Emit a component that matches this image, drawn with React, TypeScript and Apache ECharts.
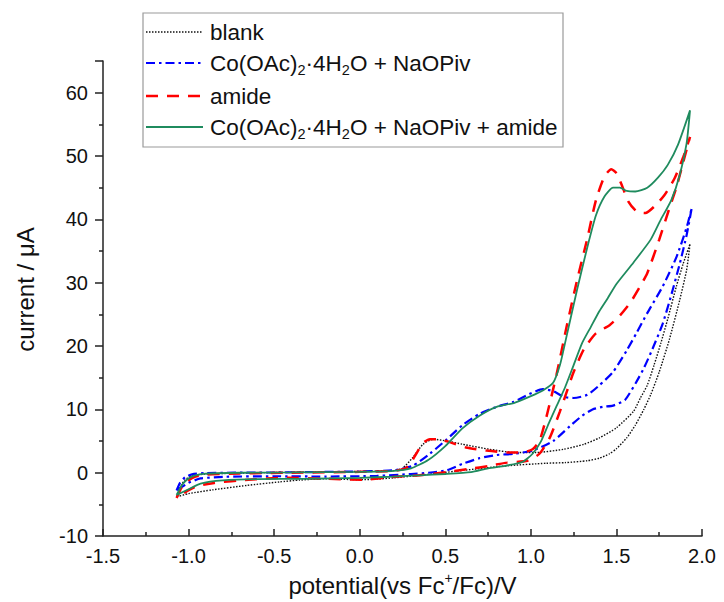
import React, { useEffect, useRef } from 'react';
import * as echarts from 'echarts';

const FONT = '"Liberation Sans", Arial, Helvetica, sans-serif';
const AXIS_COLOR = '#222';

// Tick values
const xTickValues = [-1.5, -1.0, -0.5, 0.0, 0.5, 1.0, 1.5, 2.0];
const yTickValues = [-10, 0, 10, 20, 30, 40, 50, 60];

// Series names (plain) and legend labels (rich)
const seriesNames = [
  'blank',
  'Co(OAc)2·4H2O + NaOPiv',
  'amide',
  'Co(OAc)2·4H2O + NaOPiv + amide',
];
const legendLabels = [
  'blank',
  'Co(OAc){sub|2}·4H{sub|2}O + NaOPiv',
  'amide',
  'Co(OAc){sub|2}·4H{sub|2}O + NaOPiv + amide',
];

// [potential V, current µA] — forward (anodic) scan
const blankForward = [
  [-1.07, -3.8], [-1.05, -2.3], [-1.02, -1.1], [-0.98, -0.5], [-0.9, -0.2], [-0.6, 0.0],
  [0.0, 0.2], [0.2, 0.35], [0.25, 0.7], [0.31, 2.4], [0.37, 4.5], [0.43, 5.3], [0.51, 5.0],
  [0.6, 4.5], [0.76, 3.7], [0.9, 3.2], [1.03, 3.2], [1.19, 3.7], [1.31, 4.5], [1.4, 5.5],
  [1.5, 7.1], [1.6, 9.7], [1.64, 11.8], [1.68, 13.8], [1.72, 17.0], [1.76, 20.5],
  [1.8, 24.3], [1.85, 29.4], [1.89, 33.0], [1.93, 36.1],
];
// reverse (cathodic) scan
const blankReverse = [
  [1.93, 36.1], [1.91, 32.0], [1.87, 27.3], [1.81, 21.1], [1.75, 15.9], [1.7, 12.3],
  [1.66, 10.0], [1.61, 7.5], [1.56, 5.5], [1.5, 3.8], [1.46, 3.0], [1.4, 2.3], [1.33, 1.9],
  [1.2, 1.6], [1.09, 1.5], [0.86, 1.1], [0.6, 0.36], [0.45, -0.1], [0.35, -0.4], [0.2, -0.8],
  [0.1, -1.0], [0.0, -1.1], [-0.2, -0.95], [-0.35, -1.15], [-0.47, -1.45], [-0.66, -2.0],
  [-0.86, -2.7], [-1.0, -3.3], [-1.07, -3.8],
];

const coForward = [
  [-1.07, -2.8], [-1.05, -1.6], [-1.02, -0.7], [-0.98, -0.25], [-0.9, -0.05], [-0.5, 0.05],
  [0.0, 0.2], [0.2, 0.4], [0.31, 1.1], [0.41, 3.0], [0.51, 5.3], [0.6, 7.5], [0.7, 9.3],
  [0.8, 10.4], [0.9, 11.2], [0.99, 12.4], [1.07, 13.2], [1.13, 12.9], [1.19, 12.0],
  [1.25, 11.8], [1.33, 12.3], [1.4, 13.8], [1.48, 15.9], [1.56, 19.3], [1.62, 22.2],
  [1.68, 25.2], [1.77, 29.4], [1.85, 34.0], [1.91, 38.7], [1.94, 41.8],
];
const coReverse = [
  [1.94, 41.8], [1.91, 37.5], [1.87, 33.0], [1.82, 28.0], [1.77, 23.5], [1.71, 19.5],
  [1.66, 16.5], [1.62, 14.5], [1.55, 11.5], [1.48, 10.6], [1.42, 10.4], [1.36, 10.0],
  [1.3, 9.0], [1.23, 7.4], [1.13, 5.0], [1.01, 3.5], [0.9, 3.0], [0.8, 2.8], [0.7, 2.3],
  [0.6, 1.4], [0.51, 0.4], [0.4, 0.0], [0.3, -0.2], [0.1, -0.5], [-0.2, -0.6], [-0.5, -0.55],
  [-0.8, -0.65], [-0.93, -0.9], [-1.0, -1.6], [-1.07, -2.8],
];

const amideForward = [
  [-1.07, -4.0], [-1.04, -2.3], [-1.0, -1.2], [-0.96, -0.6], [-0.9, -0.3], [-0.7, -0.1],
  [-0.4, 0.0], [0.0, 0.15], [0.2, 0.3], [0.26, 0.6], [0.29, 1.2], [0.33, 3.0], [0.37, 4.7],
  [0.41, 5.3], [0.45, 5.3], [0.53, 4.8], [0.62, 4.0], [0.74, 3.5], [0.86, 3.2], [0.95, 3.2],
  [1.01, 3.7], [1.05, 5.0], [1.09, 8.7], [1.15, 15.5], [1.21, 23.2], [1.27, 30.4],
  [1.33, 37.0], [1.38, 43.0], [1.43, 46.8], [1.47, 47.9], [1.5, 47.3], [1.53, 45.5],
  [1.57, 42.8], [1.62, 41.2], [1.67, 41.0], [1.72, 42.0], [1.78, 43.8], [1.84, 46.5],
  [1.89, 49.8], [1.93, 53.0],
];
const amideReverse = [
  [1.93, 53.0], [1.89, 49.0], [1.85, 45.0], [1.81, 41.8], [1.75, 36.8], [1.68, 31.5],
  [1.64, 29.5], [1.58, 26.8], [1.52, 24.8], [1.46, 23.3], [1.38, 22.0], [1.31, 19.5],
  [1.25, 15.9], [1.21, 12.8], [1.17, 9.7], [1.11, 5.5], [1.05, 3.0], [0.98, 1.9], [0.86, 1.6],
  [0.76, 1.1], [0.64, 0.6], [0.51, 0.1], [0.35, -0.4], [0.18, -0.7], [0.02, -1.1],
  [-0.2, -0.95], [-0.45, -0.8], [-0.65, -1.1], [-0.85, -1.6], [-0.95, -2.1], [-1.01, -2.9],
  [-1.07, -4.0],
];

const mixForward = [
  [-1.07, -3.5], [-1.04, -2.0], [-1.01, -1.1], [-0.97, -0.5], [-0.9, -0.15], [-0.7, 0.0],
  [-0.4, 0.05], [0.0, 0.15], [0.2, 0.3], [0.3, 0.7], [0.4, 2.0], [0.5, 4.2], [0.6, 7.0],
  [0.7, 9.0], [0.8, 10.4], [0.9, 11.0], [1.0, 12.1], [1.07, 13.0], [1.13, 14.2], [1.17, 17.0],
  [1.2, 20.5], [1.27, 28.9], [1.33, 35.6], [1.38, 40.6], [1.43, 43.6], [1.48, 45.0],
  [1.52, 45.0], [1.56, 44.5], [1.61, 44.4], [1.68, 45.0], [1.74, 46.5], [1.8, 48.6],
  [1.86, 51.8], [1.93, 57.2],
];
const mixReverse = [
  [1.93, 57.2], [1.91, 52.0], [1.87, 47.0], [1.82, 43.0], [1.76, 40.0], [1.7, 36.8],
  [1.6, 33.2], [1.5, 29.8], [1.45, 27.6], [1.4, 25.5], [1.35, 23.0], [1.3, 20.5],
  [1.25, 17.0], [1.2, 13.5], [1.15, 10.5], [1.1, 7.5], [1.06, 5.0], [1.01, 3.0], [0.95, 1.7],
  [0.85, 1.1], [0.75, 0.7], [0.65, 0.1], [0.5, -0.2], [0.35, -0.4], [0.2, -0.6], [0.0, -0.8],
  [-0.3, -0.95], [-0.6, -1.0], [-0.8, -1.2], [-0.93, -1.7], [-1.0, -2.6], [-1.07, -3.5],
];

const loops = [
  blankForward.concat(blankReverse.slice(1)),
  coForward.concat(coReverse.slice(1)),
  amideForward.concat(amideReverse.slice(1)),
  mixForward.concat(mixReverse.slice(1)),
];

const lineStyles = [
  { color: '#111111', width: 1.4, type: [1.5, 1.5] },
  { color: '#0000ff', width: 2.2, type: [9, 4, 2.5, 4] },
  { color: '#ff0000', width: 2.5, type: [12, 9] },
  { color: '#1f8b5e', width: 1.8, type: 'solid' },
];

export default function App() {
  const ref = useRef<HTMLDivElement>(null);

  useEffect(() => {
    if (!ref.current) return;
    const chart = echarts.init(ref.current, null, { renderer: 'svg' });

    const legendX = 143;
    const legendY = 13;
    const rowYs = [32, 63, 96, 127];
    const legendGraphics: any[] = [
      {
        type: 'rect',
        shape: { x: legendX, y: legendY, width: 420, height: 134 },
        style: { fill: '#fff', stroke: '#9a9a9a', lineWidth: 1.2 },
        z: 100,
      },
    ];
    legendLabels.forEach((lbl, i) => {
      const ls = lineStyles[i];
      legendGraphics.push({
        type: 'line',
        shape: { x1: legendX + 3, y1: rowYs[i], x2: legendX + 60, y2: rowYs[i] },
        style: {
          stroke: ls.color,
          lineWidth: ls.width,
          lineDash: Array.isArray(ls.type) ? ls.type : null,
        },
        z: 101,
      });
      legendGraphics.push({
        type: 'text',
        x: legendX + 67,
        y: rowYs[i],
        style: {
          text: lbl,
          fontSize: 22.5,
          fontFamily: FONT,
          fill: '#111',
          verticalAlign: 'middle',
          align: 'left',
          rich: {
            sub: { fontSize: 14.5, fontFamily: FONT, fill: '#111', padding: [13, 0, 0, 0] },
          },
        },
        z: 101,
      });
    });

    chart.setOption({
      animation: false,
      backgroundColor: '#fff',
      grid: { left: 103, right: 22, top: 61, bottom: 59, containLabel: false },
      xAxis: {
        type: 'value',
        min: -1.5,
        max: 2.0,
        interval: 0.5,
        name: 'potential(vs Fc{sup|+}/Fc)/V',
        nameLocation: 'middle',
        nameGap: 26,
        nameTextStyle: {
          fontSize: 24,
          fontFamily: FONT,
          color: '#111',
          rich: {
            sup: { fontSize: 14, fontFamily: FONT, color: '#111', padding: [0, 0, 14, 0] },
          },
        },
        axisLine: { onZero: false, lineStyle: { color: AXIS_COLOR, width: 1.5 } },
        axisTick: { inside: true, length: 7, lineStyle: { color: AXIS_COLOR, width: 1.5 } },
        minorTick: { show: true, splitNumber: 2, length: 4, lineStyle: { color: AXIS_COLOR, width: 1.5 } },
        axisLabel: {
          fontSize: 20,
          fontFamily: FONT,
          color: '#111',
          margin: 10,
          formatter: (v: number) => (xTickValues.includes(Math.round(v * 10) / 10) ? v.toFixed(1) : ''),
        },
        splitLine: { show: false },
      },
      yAxis: {
        type: 'value',
        min: -10,
        max: 65,
        interval: 10,
        name: 'current / μA',
        nameLocation: 'middle',
        nameGap: 66,
        nameTextStyle: { fontSize: 24, fontFamily: FONT, color: '#111', padding: [0, 0, 0, 18] },
        axisLine: { onZero: false, lineStyle: { color: AXIS_COLOR, width: 1.5 } },
        axisTick: { inside: false, length: 8, lineStyle: { color: AXIS_COLOR, width: 1.5 } },
        minorTick: { show: true, splitNumber: 2, length: 4, lineStyle: { color: AXIS_COLOR, width: 1.5 } },
        axisLabel: {
          fontSize: 20,
          fontFamily: FONT,
          color: '#111',
          margin: 15,
          formatter: (v: number) => (yTickValues.includes(v) ? String(v) : ''),
        },
        splitLine: { show: false },
      },
      graphic: legendGraphics,
      series: loops.map((data, i) => ({
        name: seriesNames[i],
        type: 'line',
        data,
        showSymbol: false,
        symbol: 'none',
        smooth: 0.2,
        clip: false,
        lineStyle: lineStyles[i],
        itemStyle: { color: lineStyles[i].color },
        z: 2 + i,
      })),
    });

    return () => chart.dispose();
  }, []);

  return (
    <div
      ref={ref}
      style={{ position: 'absolute', left: 0, top: 0, width: 724, height: 602 }}
    />
  );
}
